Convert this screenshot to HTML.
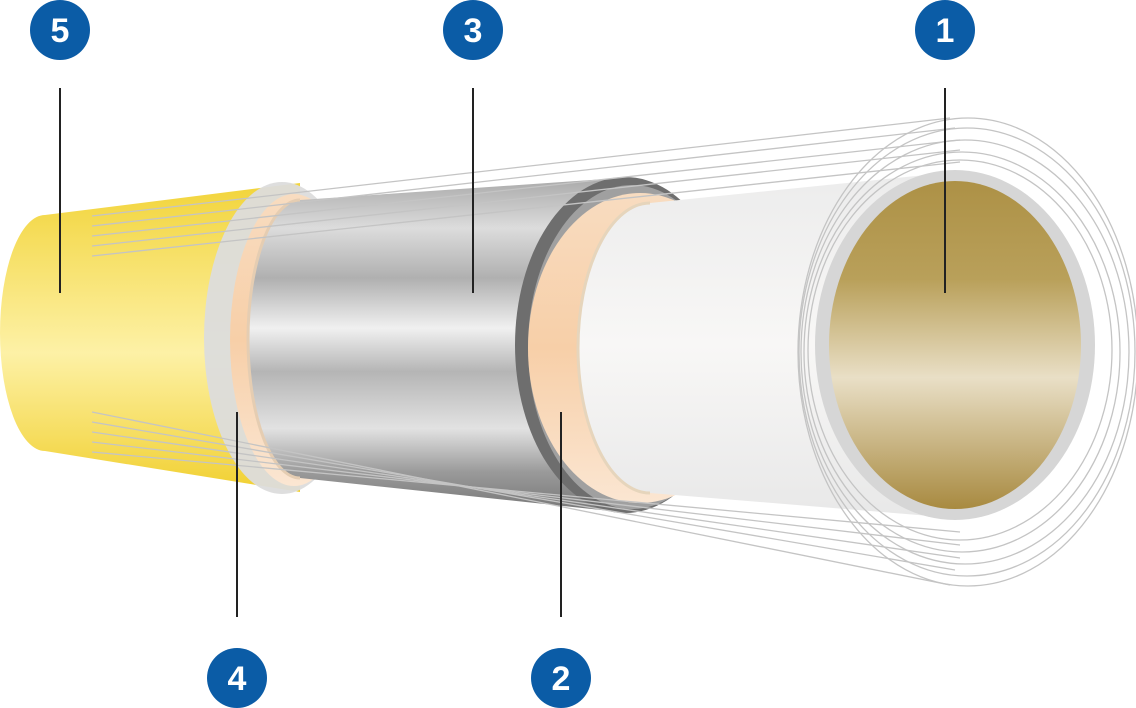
<!DOCTYPE html>
<html><head><meta charset="utf-8"><style>
html,body{margin:0;padding:0;background:#fff;width:1136px;height:708px;overflow:hidden}
</style></head><body>
<svg width="1136" height="708" viewBox="0 0 1136 708" xmlns="http://www.w3.org/2000/svg">
<defs>
<linearGradient id="yel" x1="0" y1="0" x2="0" y2="1">
<stop offset="0" stop-color="#f2d43a"/><stop offset="0.55" stop-color="#fdf1a6"/><stop offset="1" stop-color="#f1d030"/></linearGradient>
<linearGradient id="sil" x1="0" y1="0" x2="0" y2="1">
<stop offset="0" stop-color="#a9a9a9"/><stop offset="0.15" stop-color="#dcdcdc"/><stop offset="0.3" stop-color="#b0b0b0"/><stop offset="0.45" stop-color="#f0f0f0"/><stop offset="0.58" stop-color="#b5b5b5"/><stop offset="0.75" stop-color="#e2e2e2"/><stop offset="0.88" stop-color="#9a9a9a"/><stop offset="1" stop-color="#777"/></linearGradient>
<linearGradient id="pch" x1="0" y1="0" x2="0" y2="1">
<stop offset="0" stop-color="#f8dcc0"/><stop offset="0.5" stop-color="#f7cfa8"/><stop offset="1" stop-color="#fbe6d2"/></linearGradient>
<linearGradient id="wht" x1="0" y1="0" x2="0" y2="1">
<stop offset="0" stop-color="#ececec"/><stop offset="0.5" stop-color="#f8f7f6"/><stop offset="1" stop-color="#e8e8e8"/></linearGradient>
<linearGradient id="gold" x1="0" y1="0" x2="0" y2="1">
<stop offset="0" stop-color="#ad9146"/><stop offset="0.3" stop-color="#b9a05a"/><stop offset="0.6" stop-color="#e9dfc6"/><stop offset="1" stop-color="#a88a40"/></linearGradient>
</defs>
<path d="M45,215 L300,183 L300,492 L45,451 A45,118 0 0 1 45,215 Z" fill="url(#yel)"/>
<ellipse cx="282" cy="338" rx="78" ry="156" fill="#dcdcdc" opacity="0.95"/>
<ellipse cx="294" cy="340" rx="64" ry="146" fill="url(#pch)"/>
<path d="M300,200 L620,178 L620,512 L300,478 A52,139 0 0 1 300,200 Z" fill="url(#sil)"/>
<path d="M300,200 A52,139 0 0 0 300,478" fill="none" stroke="#e5cdb2" stroke-width="3"/>
<ellipse cx="625" cy="345" rx="110" ry="168" fill="#6e6e6e"/>
<ellipse cx="632" cy="347" rx="104" ry="162" fill="#a0a0a0"/>
<ellipse cx="640" cy="348" rx="112" ry="155" fill="url(#pch)"/>
<path d="M650,203 L955,172 L955,518 L650,493 A72,145 0 0 1 650,203 Z" fill="url(#wht)"/>
<path d="M650,203 A72,145 0 0 0 650,493" fill="none" stroke="#e6d5bc" stroke-width="3"/>
<ellipse cx="955" cy="345" rx="140" ry="175" fill="#d6d6d6"/>
<ellipse cx="955" cy="345" rx="126" ry="164" fill="url(#gold)"/>
<g stroke="#c4c4c4" stroke-width="1.3" fill="none">
<line x1="92" y1="216" x2="950" y2="118"/>
<line x1="92" y1="226" x2="955" y2="128"/>
<line x1="92" y1="236" x2="960" y2="140"/>
<line x1="92" y1="246" x2="960" y2="150"/>
<line x1="92" y1="256" x2="960" y2="162"/>
<line x1="92" y1="412" x2="950" y2="585"/>
<line x1="92" y1="422" x2="955" y2="570"/>
<line x1="92" y1="432" x2="960" y2="558"/>
<line x1="92" y1="442" x2="960" y2="545"/>
<line x1="92" y1="452" x2="960" y2="532"/>
<ellipse cx="960" cy="350" rx="152" ry="190"/>
<ellipse cx="962" cy="352" rx="158" ry="200"/>
<ellipse cx="965" cy="352" rx="164" ry="212"/>
<ellipse cx="967" cy="352" rx="168" ry="224"/>
<ellipse cx="968" cy="352" rx="170" ry="234"/>
</g>
<g stroke="#222" stroke-width="2">
<line x1="60" y1="88" x2="60" y2="293"/>
<line x1="473" y1="88" x2="473" y2="293"/>
<line x1="945" y1="88" x2="945" y2="293"/>
<line x1="237" y1="412" x2="237" y2="617"/>
<line x1="561" y1="412" x2="561" y2="617"/>
</g>
<g font-family="Liberation Sans, sans-serif" font-weight="bold" font-size="34" fill="#fff" text-anchor="middle">
<circle cx="60" cy="30" r="30" fill="#0b5ca6"/><text x="60" y="42">5</text>
<circle cx="473" cy="30" r="30" fill="#0b5ca6"/><text x="473" y="42">3</text>
<circle cx="945" cy="30" r="30" fill="#0b5ca6"/><text x="945" y="42">1</text>
<circle cx="237" cy="678" r="30" fill="#0b5ca6"/><text x="237" y="690">4</text>
<circle cx="561" cy="678" r="30" fill="#0b5ca6"/><text x="561" y="690">2</text>
</g>
</svg>
</body></html>
